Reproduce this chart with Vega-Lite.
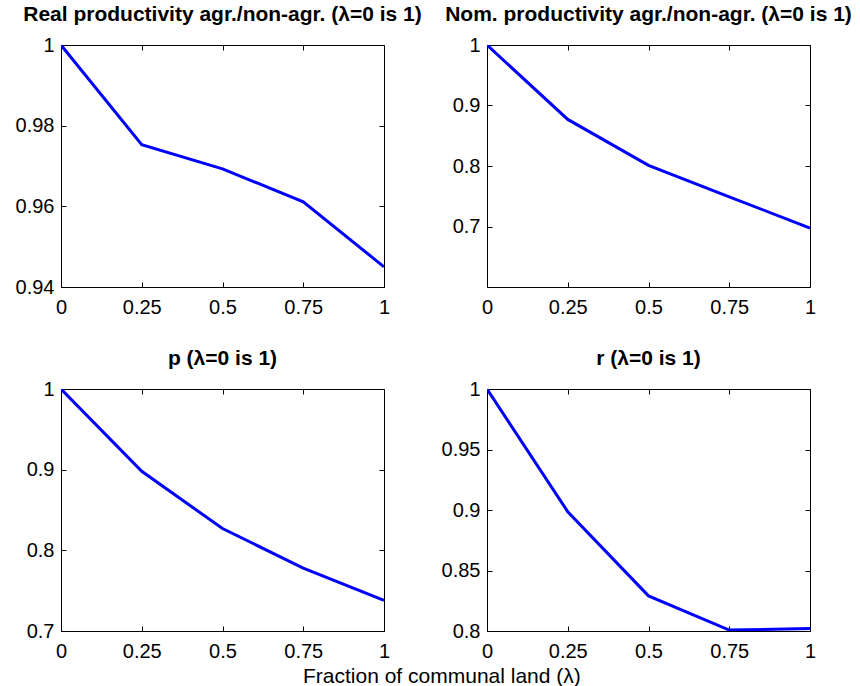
{
  "$schema": "https://vega.github.io/schema/vega-lite/v6.json",
  "autosize": "none",
  "padding": {"left": 61, "top": 45, "right": 799, "bottom": 641},
  "background": "white",
  "config": {
    "font": "Liberation Sans",
    "view": {"stroke": "black", "strokeWidth": 1, "fill": "white"},
    "axis": {
      "grid": false, "domain": false, "ticks": true, "tickColor": "black", "tickSize": -5, "tickWidth": 1,
      "labelFont": "Liberation Sans", "labelFontSize": 20, "labelColor": "black",
      "title": null, "labelFlush": false, "labelOverlap": false
    },
    "axisX": {"labelPadding": 15},
    "axisY": {"labelPadding": 12},
    "title": {"font": "Liberation Sans", "fontSize": 21, "fontWeight": "bold", "color": "black", "offset": 10}
  },
  "title": {"text": "Fraction of communal land (λ)", "orient": "bottom", "anchor": "start", "frame": "group", "fontWeight": "normal", "fontSize": 21, "dx": 242, "offset": 4},
  "bounds": "flush",
  "spacing": {"row": 102, "column": 103},
  "columns": 2,
  "concat": [
    {
      "width": 323, "height": 242,
      "title": "Real productivity agr./non-agr. (λ=0 is 1)",
      "data": {"values": [
        {"lambda": 0, "value": 1.0},
        {"lambda": 0.25, "value": 0.9753},
        {"lambda": 0.5, "value": 0.9693},
        {"lambda": 0.75, "value": 0.9611},
        {"lambda": 1, "value": 0.945}
      ]},
      "layer": [
        {"mark": {"type": "line", "color": "#0000ff", "strokeWidth": 3, "clip": true},
         "encoding": {
           "x": {"field": "lambda", "type": "quantitative", "scale": {"domain": [0, 1], "nice": false, "zero": false}, "axis": {"orient": "bottom", "values": [0, 0.25, 0.5, 0.75, 1], "labelExpr": "'' + datum.value"}},
           "y": {"field": "value", "type": "quantitative", "scale": {"domain": [0.94, 1], "nice": false, "zero": false}, "axis": {"orient": "left", "values": [0.94, 0.96, 0.98, 1], "labelExpr": "'' + datum.value"}}
         }},
        {"mark": {"type": "line", "opacity": 0},
         "encoding": {
           "x": {"field": "lambda", "type": "quantitative", "axis": {"orient": "top", "values": [0, 0.25, 0.5, 0.75, 1], "labels": false}},
           "y": {"field": "value", "type": "quantitative", "axis": {"orient": "right", "values": [0.94, 0.96, 0.98, 1], "labels": false}}
         }}
      ],
      "resolve": {"axis": {"x": "independent", "y": "independent"}}
    },
    {
      "width": 323, "height": 242,
      "title": "Nom. productivity agr./non-agr. (λ=0 is 1)",
      "data": {"values": [
        {"lambda": 0, "value": 1.0},
        {"lambda": 0.25, "value": 0.877},
        {"lambda": 0.5, "value": 0.801},
        {"lambda": 0.75, "value": 0.749},
        {"lambda": 1, "value": 0.6975}
      ]},
      "layer": [
        {"mark": {"type": "line", "color": "#0000ff", "strokeWidth": 3, "clip": true},
         "encoding": {
           "x": {"field": "lambda", "type": "quantitative", "scale": {"domain": [0, 1], "nice": false, "zero": false}, "axis": {"orient": "bottom", "values": [0, 0.25, 0.5, 0.75, 1], "labelExpr": "'' + datum.value"}},
           "y": {"field": "value", "type": "quantitative", "scale": {"domain": [0.6, 1], "nice": false, "zero": false}, "axis": {"orient": "left", "values": [0.7, 0.8, 0.9, 1], "labelExpr": "'' + datum.value"}}
         }},
        {"mark": {"type": "line", "opacity": 0},
         "encoding": {
           "x": {"field": "lambda", "type": "quantitative", "axis": {"orient": "top", "values": [0, 0.25, 0.5, 0.75, 1], "labels": false}},
           "y": {"field": "value", "type": "quantitative", "axis": {"orient": "right", "values": [0.7, 0.8, 0.9, 1], "labels": false}}
         }}
      ],
      "resolve": {"axis": {"x": "independent", "y": "independent"}}
    },
    {
      "width": 323, "height": 242,
      "title": "p (λ=0 is 1)",
      "data": {"values": [
        {"lambda": 0, "value": 1.0},
        {"lambda": 0.25, "value": 0.898},
        {"lambda": 0.5, "value": 0.827},
        {"lambda": 0.75, "value": 0.778},
        {"lambda": 1, "value": 0.738}
      ]},
      "layer": [
        {"mark": {"type": "line", "color": "#0000ff", "strokeWidth": 3, "clip": true},
         "encoding": {
           "x": {"field": "lambda", "type": "quantitative", "scale": {"domain": [0, 1], "nice": false, "zero": false}, "axis": {"orient": "bottom", "values": [0, 0.25, 0.5, 0.75, 1], "labelExpr": "'' + datum.value"}},
           "y": {"field": "value", "type": "quantitative", "scale": {"domain": [0.7, 1], "nice": false, "zero": false}, "axis": {"orient": "left", "values": [0.7, 0.8, 0.9, 1], "labelExpr": "'' + datum.value"}}
         }},
        {"mark": {"type": "line", "opacity": 0},
         "encoding": {
           "x": {"field": "lambda", "type": "quantitative", "axis": {"orient": "top", "values": [0, 0.25, 0.5, 0.75, 1], "labels": false}},
           "y": {"field": "value", "type": "quantitative", "axis": {"orient": "right", "values": [0.7, 0.8, 0.9, 1], "labels": false}}
         }}
      ],
      "resolve": {"axis": {"x": "independent", "y": "independent"}}
    },
    {
      "width": 323, "height": 242,
      "title": "r (λ=0 is 1)",
      "data": {"values": [
        {"lambda": 0, "value": 1.0},
        {"lambda": 0.25, "value": 0.8986},
        {"lambda": 0.5, "value": 0.829},
        {"lambda": 0.75, "value": 0.8008},
        {"lambda": 1, "value": 0.802}
      ]},
      "layer": [
        {"mark": {"type": "line", "color": "#0000ff", "strokeWidth": 3, "clip": true},
         "encoding": {
           "x": {"field": "lambda", "type": "quantitative", "scale": {"domain": [0, 1], "nice": false, "zero": false}, "axis": {"orient": "bottom", "values": [0, 0.25, 0.5, 0.75, 1], "labelExpr": "'' + datum.value"}},
           "y": {"field": "value", "type": "quantitative", "scale": {"domain": [0.8, 1], "nice": false, "zero": false}, "axis": {"orient": "left", "values": [0.8, 0.85, 0.9, 0.95, 1], "labelExpr": "'' + datum.value"}}
         }},
        {"mark": {"type": "line", "opacity": 0},
         "encoding": {
           "x": {"field": "lambda", "type": "quantitative", "axis": {"orient": "top", "values": [0, 0.25, 0.5, 0.75, 1], "labels": false}},
           "y": {"field": "value", "type": "quantitative", "axis": {"orient": "right", "values": [0.8, 0.85, 0.9, 0.95, 1], "labels": false}}
         }}
      ],
      "resolve": {"axis": {"x": "independent", "y": "independent"}}
    }
  ]
}
